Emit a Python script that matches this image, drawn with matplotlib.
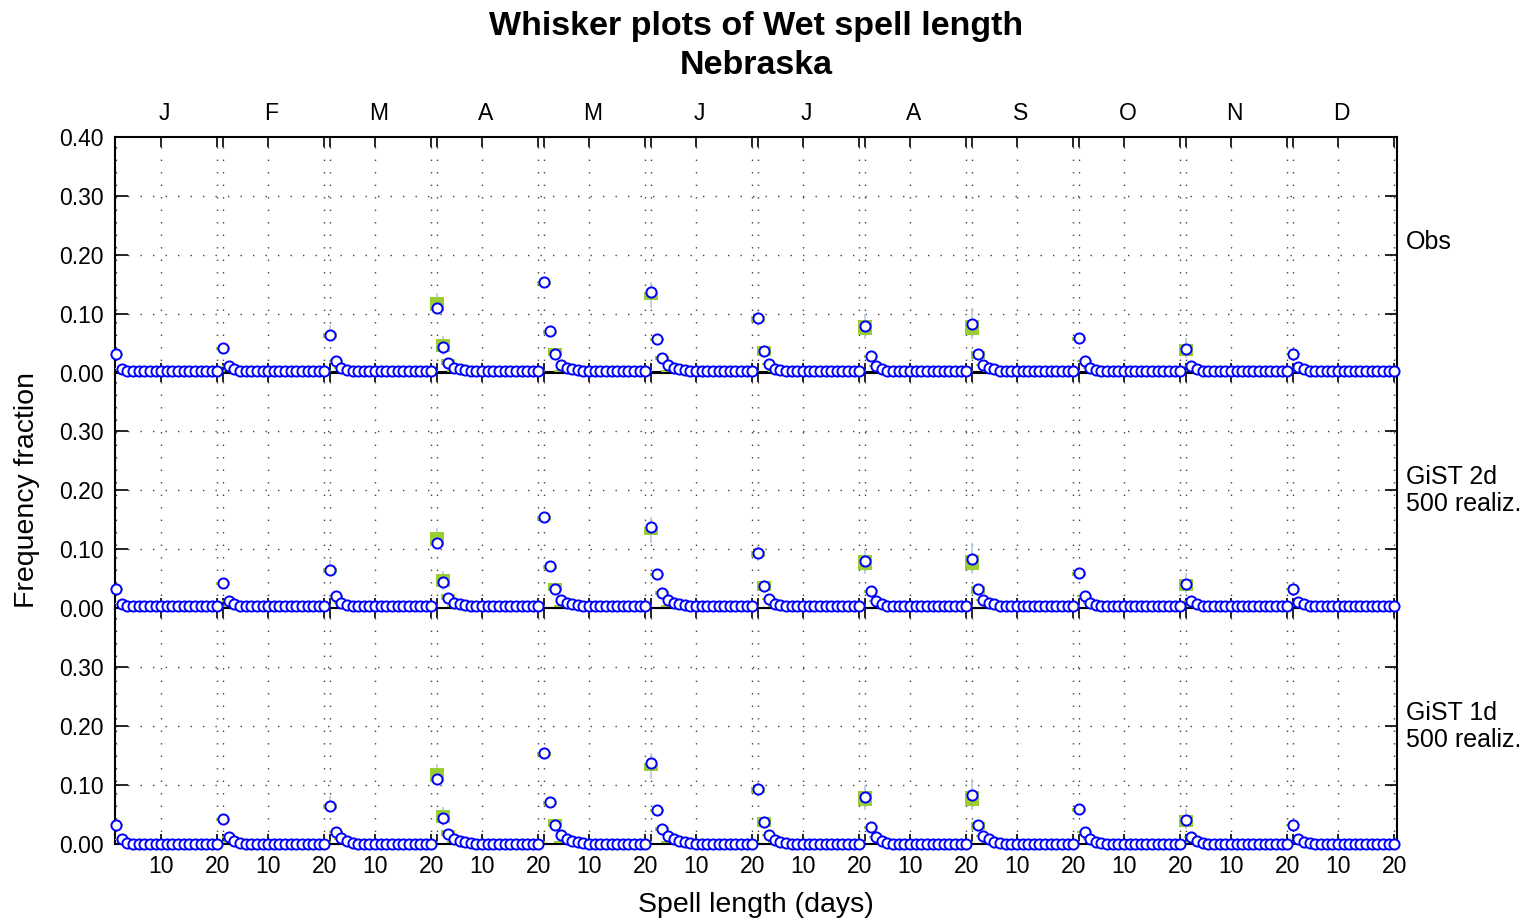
import numpy as np
import matplotlib.pyplot as plt
from matplotlib.transforms import blended_transform_factory

plt.rcParams['font.family'] = ['Liberation Sans', 'DejaVu Sans']

months = ['J', 'F', 'M', 'A', 'M', 'J', 'J', 'A', 'S', 'O', 'N', 'D']
n_len = 19  # spell lengths shown per month

# observed frequency fractions (spell length 1..19), upper two panels
obs = [
    [0.032, 0.0075, 0.004, 0.004, 0.004, 0.004, 0.004, 0.004, 0.004, 0.004, 0.004, 0.004, 0.004, 0.004, 0.004, 0.004, 0.004, 0.004, 0.004],
    [0.042, 0.012, 0.006, 0.004, 0.004, 0.004, 0.004, 0.004, 0.004, 0.004, 0.004, 0.004, 0.004, 0.004, 0.004, 0.004, 0.004, 0.004, 0.004],
    [0.064, 0.020, 0.0085, 0.005, 0.004, 0.004, 0.004, 0.004, 0.004, 0.004, 0.004, 0.004, 0.004, 0.004, 0.004, 0.004, 0.004, 0.004, 0.004],
    [0.110, 0.044, 0.017, 0.0085, 0.006, 0.005, 0.004, 0.004, 0.004, 0.004, 0.004, 0.004, 0.004, 0.004, 0.004, 0.004, 0.004, 0.004, 0.004],
    [0.154, 0.071, 0.032, 0.014, 0.0085, 0.006, 0.005, 0.004, 0.004, 0.004, 0.004, 0.004, 0.004, 0.004, 0.004, 0.004, 0.004, 0.004, 0.004],
    [0.137, 0.058, 0.025, 0.013, 0.0085, 0.006, 0.005, 0.004, 0.004, 0.004, 0.004, 0.004, 0.004, 0.004, 0.004, 0.004, 0.004, 0.004, 0.004],
    [0.093, 0.037, 0.015, 0.007, 0.005, 0.004, 0.004, 0.004, 0.004, 0.004, 0.004, 0.004, 0.004, 0.004, 0.004, 0.004, 0.004, 0.004, 0.004],
    [0.079, 0.028, 0.012, 0.006, 0.004, 0.004, 0.004, 0.004, 0.004, 0.004, 0.004, 0.004, 0.004, 0.004, 0.004, 0.004, 0.004, 0.004, 0.004],
    [0.083, 0.032, 0.014, 0.0085, 0.006, 0.004, 0.004, 0.004, 0.004, 0.004, 0.004, 0.004, 0.004, 0.004, 0.004, 0.004, 0.004, 0.004, 0.004],
    [0.059, 0.020, 0.0085, 0.005, 0.004, 0.004, 0.004, 0.004, 0.004, 0.004, 0.004, 0.004, 0.004, 0.004, 0.004, 0.004, 0.004, 0.004, 0.004],
    [0.041, 0.012, 0.006, 0.004, 0.004, 0.004, 0.004, 0.004, 0.004, 0.004, 0.004, 0.004, 0.004, 0.004, 0.004, 0.004, 0.004, 0.004, 0.004],
    [0.032, 0.0096, 0.006, 0.004, 0.004, 0.004, 0.004, 0.004, 0.004, 0.004, 0.004, 0.004, 0.004, 0.004, 0.004, 0.004, 0.004, 0.004, 0.004],
]

# circles of the lowest panel (tails fall to zero)
obs_1d = [
    [0.032, 0.008, 0.002, 0, 0, 0, 0, 0, 0, 0, 0, 0, 0, 0, 0, 0, 0, 0, 0],
    [0.042, 0.012, 0.005, 0.002, 0, 0, 0, 0, 0, 0, 0, 0, 0, 0, 0, 0, 0, 0, 0],
    [0.064, 0.020, 0.0096, 0.005, 0.002, 0, 0, 0, 0, 0, 0, 0, 0, 0, 0, 0, 0, 0, 0],
    [0.110, 0.044, 0.017, 0.009, 0.005, 0.003, 0.0015, 0, 0, 0, 0, 0, 0, 0, 0, 0, 0, 0, 0],
    [0.154, 0.071, 0.032, 0.015, 0.008, 0.005, 0.003, 0.0015, 0, 0, 0, 0, 0, 0, 0, 0, 0, 0, 0],
    [0.137, 0.058, 0.025, 0.013, 0.008, 0.005, 0.003, 0.0015, 0, 0, 0, 0, 0, 0, 0, 0, 0, 0, 0],
    [0.093, 0.037, 0.015, 0.007, 0.004, 0.002, 0, 0, 0, 0, 0, 0, 0, 0, 0, 0, 0, 0, 0],
    [0.079, 0.028, 0.012, 0.005, 0.002, 0, 0, 0, 0, 0, 0, 0, 0, 0, 0, 0, 0, 0, 0],
    [0.083, 0.032, 0.014, 0.008, 0.004, 0.002, 0, 0, 0, 0, 0, 0, 0, 0, 0, 0, 0, 0, 0],
    [0.059, 0.020, 0.008, 0.003, 0.001, 0, 0, 0, 0, 0, 0, 0, 0, 0, 0, 0, 0, 0, 0],
    [0.041, 0.012, 0.005, 0.002, 0, 0, 0, 0, 0, 0, 0, 0, 0, 0, 0, 0, 0, 0, 0],
    [0.032, 0.009, 0.004, 0.002, 0, 0, 0, 0, 0, 0, 0, 0, 0, 0, 0, 0, 0, 0, 0],
]

# simulated boxes (25th-75th pct) for spell length 1, 2, 3
box1 = [(0.030, 0.034), (0.039, 0.044), (0.060, 0.068), (0.105, 0.129), (0.150, 0.156), (0.124, 0.138),
        (0.086, 0.097), (0.064, 0.090), (0.065, 0.090), (0.054, 0.061), (0.028, 0.049), (0.030, 0.034)]
box2 = [(0.006, 0.009), (0.010, 0.014), (0.018, 0.022), (0.035, 0.057), (0.066, 0.073), (0.055, 0.060),
        (0.029, 0.045), (0.025, 0.031), (0.024, 0.038), (0.018, 0.022), (0.010, 0.014), (0.008, 0.011)]
box3 = [(0.003, 0.005), (0.004, 0.007), (0.007, 0.010), (0.013, 0.024), (0.028, 0.042), (0.022, 0.028),
        (0.013, 0.017), (0.010, 0.014), (0.012, 0.016), (0.007, 0.010), (0.004, 0.007), (0.004, 0.007)]
box_tail = (0.002, 0.005)
# whiskers for spell length 1 and 2
whisk1 = [(0.028, 0.037), (0.037, 0.047), (0.058, 0.082), (0.100, 0.135), (0.145, 0.160), (0.110, 0.155),
          (0.080, 0.105), (0.058, 0.100), (0.058, 0.110), (0.050, 0.066), (0.025, 0.059), (0.028, 0.036)]
whisk2 = [(0.005, 0.010), (0.009, 0.016), (0.016, 0.025), (0.030, 0.062), (0.063, 0.076), (0.052, 0.063),
          (0.026, 0.048), (0.022, 0.034), (0.021, 0.041), (0.016, 0.025), (0.009, 0.016), (0.007, 0.012)]

panel_names = ['Obs', 'GiST 2d\n500 realiz.', 'GiST 1d\n500 realiz.']
panel_circles = [obs, obs, obs_1d]

fig = plt.figure(figsize=(15.33, 9.24), dpi=100)
W, H = 1533, 924
left, right = 115 / W, 1397 / W
tops = [137, 372, 608]
ph = 236

green = '#9acd32'
wcol = '#b8c8e0'

for p in range(3):
    ax = fig.add_axes([left, 1 - (tops[p] + ph) / H, right - left, ph / H])
    ax.set_facecolor('none')
    ax.set_zorder(3 - p)
    circ = panel_circles[p]
    for m in range(12):
        x0 = 19 * m
        xs = x0 + np.arange(n_len)
        lows = [box1[m][0], box2[m][0], box3[m][0]] + [box_tail[0]] * (n_len - 3)
        highs = [box1[m][1], box2[m][1], box3[m][1]] + [box_tail[1]] * (n_len - 3)
        ax.vlines([xs[0], xs[1]], [whisk1[m][0], whisk2[m][0]], [whisk1[m][1], whisk2[m][1]],
                  color=wcol, lw=1.2, zorder=2)
        ax.bar(xs, np.array(highs) - np.array(lows), bottom=lows, width=2.5,
               color=green, zorder=3, linewidth=0)
        ax.plot(xs, circ[m], 'o', ms=7.3, mfc='white', mec='#0000ff', mew=1.4,
                zorder=5, clip_on=False)

    ax.set_xlim(-0.2, 227.5)
    ax.set_ylim(0, 0.4)

    major = []
    labels = []
    for m in range(12):
        if m > 0:
            major.append(19 * m)
            labels.append('')
        major += [19 * m + 8, 19 * m + 18]
        labels += ['10', '20']
    ax.set_xticks(major)
    ax.set_xticklabels(labels)
    ax.set_yticks([0, 0.1, 0.2, 0.3, 0.4])
    if p == 0:
        ax.set_yticklabels(['0.00', '0.10', '0.20', '0.30', '0.40'])
    else:
        ax.set_yticklabels(['0.00', '0.10', '0.20', '0.30', ''])
    ax.tick_params(axis='both', direction='in', top=True, right=True, labelsize=16.5,
                   width=1.2, colors='black')
    ax.tick_params(axis='x', length=7, pad=8, labelbottom=(p == 2))
    ax.tick_params(axis='y', length=9, pad=8)
    for s in ax.spines.values():
        s.set_linewidth(1.5)

    for xv in [0] + major:
        ax.axvline(xv, color='0.25', lw=1.0, ls=(0, (1, 8)), zorder=1)
    for yv in [0.1, 0.2, 0.3]:
        ax.axhline(yv, color='0.25', lw=1.0, ls=(0, (1, 8)), zorder=1)

    ypos = 0.555 if p == 0 else 0.498
    ax.text(1 + 9 / 1282, ypos, panel_names[p], transform=ax.transAxes,
            ha='left', va='center', fontsize=18, linespacing=1.15)

    if p == 0:
        tr = blended_transform_factory(ax.transData, ax.transAxes)
        for m in range(12):
            ax.text(19 * m + 8.6, 1 + 24 / ph, months[m], transform=tr,
                    ha='center', va='center', fontsize=16.5)
    if p == 2:
        ax.set_xlabel('Spell length (days)', fontsize=20.5, labelpad=10)

fig.text(0.4935, 1 - 26 / H, 'Whisker plots of Wet spell length', ha='center', va='center',
         fontsize=24.5, fontweight='bold')
fig.text(0.4935, 1 - 66 / H, 'Nebraska', ha='center', va='center',
         fontsize=24.5, fontweight='bold')
fig.text(27 / W, 1 - 490 / H, 'Frequency fraction', rotation=90, ha='center', va='center',
         fontsize=20.5)

fig.savefig('out.png', dpi=100)
